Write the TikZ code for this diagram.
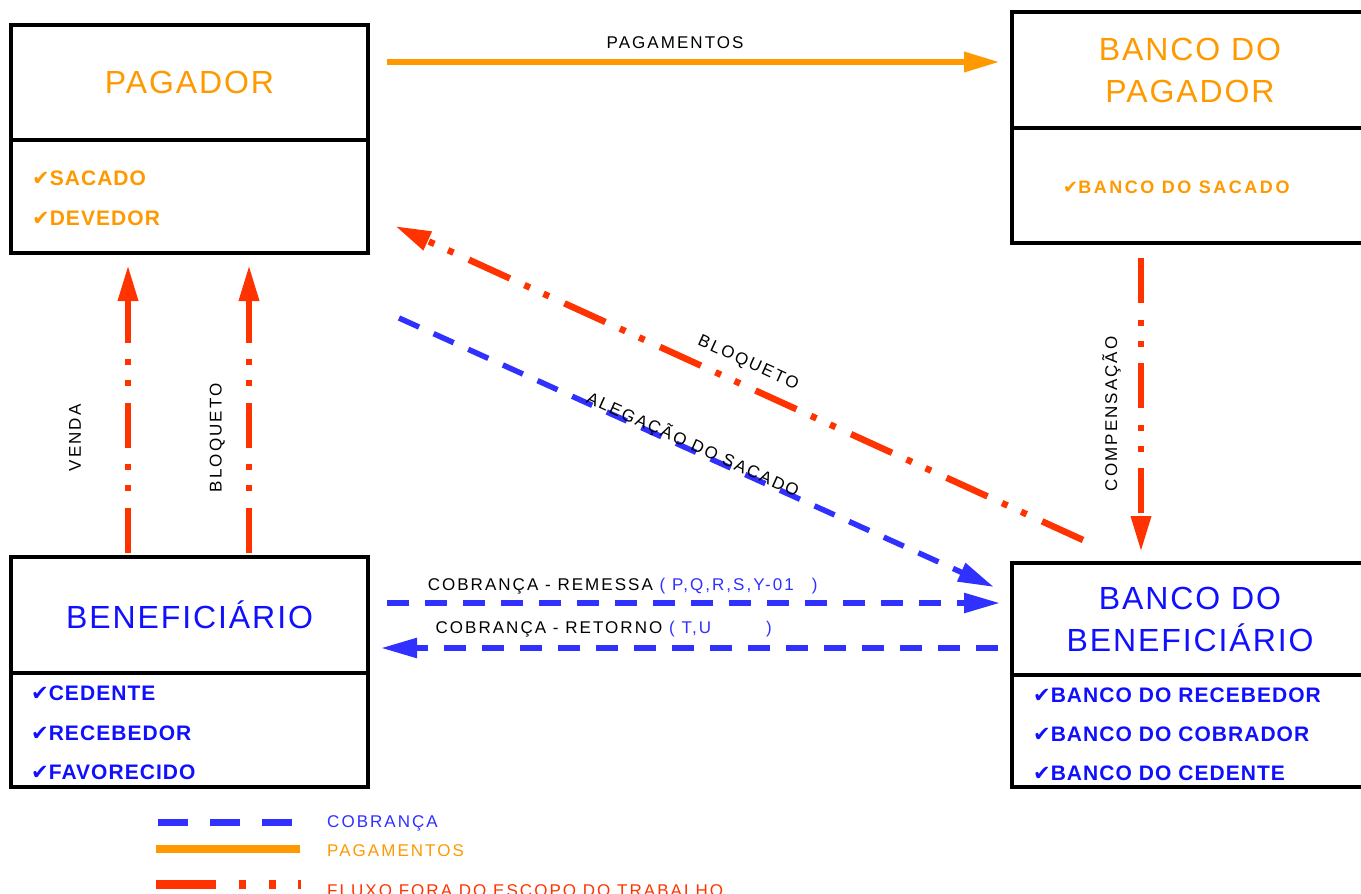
\documentclass[tikz,border=0pt]{standalone}
\usepackage{fontspec}
\setmainfont{Liberation Sans}
\newfontfamily\titlefont[LetterSpace=6]{Liberation Sans}
\newfontfamily\itemfont[LetterSpace=5]{Liberation Sans}
\newfontfamily\itemwidefont[LetterSpace=14]{Liberation Sans}
\newfontfamily\labelfont[LetterSpace=12]{Liberation Sans}
\newfontfamily\symfont{DejaVu Sans}
\usetikzlibrary{arrows.meta,positioning}
\definecolor{pagorange}{HTML}{FF9900}
\definecolor{forared}{HTML}{FF3300}
\definecolor{cobblue}{HTML}{3030FF}
\definecolor{entblue}{HTML}{1010FF}
\newcommand{\chk}{{\symfont ✔}}
\tikzset{node distance=0pt, auto}

\begin{document}
\begin{tikzpicture}[
  x=1pt, y=-1pt,
  box/.style={draw, line width=3.5pt, outer sep=0pt, inner sep=0pt, minimum width=357pt},
  titlebox/.style={box, align=center, font={\titlefont\fontsize{32}{42}\selectfont}},
  item/.style={anchor=base west, inner sep=0pt, font={\itemfont\bfseries\fontsize{21}{21}\selectfont}},
  lbl/.style={text=black, inner sep=2pt, font={\labelfont\fontsize{17}{17}\selectfont}},
  cob/.style={cobblue, line width=5.5pt, dash pattern=on 22pt off 16pt},
  pag/.style={pagorange, line width=6.5pt},
  fora/.style={forared, line width=6.5pt, dash pattern=on 45pt off 17pt on 6pt off 15pt on 6pt off 16pt},
  arrowhd/.style={-{Triangle[length=36pt,width=19pt]}}
]
\useasboundingbox[fill=white] (0,0) rectangle (1361,894);

\node[titlebox, text=pagorange, minimum height=115pt] (pagador) at (189.5,82.5) {PAGADOR};
\node[box, minimum height=113pt, below=of pagador] (paglist) {};
\node[item, text=pagorange] (sacado) at (32,185) {\chk SACADO};
\node[item, text=pagorange] (devedor) at (32,225) {\chk DEVEDOR};

\node[titlebox, text=pagorange, minimum width=356pt, minimum height=116pt] (bancopag) at (1190,70) {BANCO DO\\PAGADOR};
\node[box, minimum width=356pt, minimum height=115pt, below=of bancopag] (bancopaglist) {};
\node[item, text=pagorange, font={\itemwidefont\bfseries\fontsize{18}{18}\selectfont}] (bcosacado) at (1063,193.5) {\chk BANCO DO SACADO};

\node[titlebox, text=entblue, minimum height=116pt] (benef) at (189.5,615) {BENEFICIÁRIO};
\node[box, minimum height=114pt, below=of benef] (beneflist) {};
\node[item, text=entblue] (cedente) at (31,700) {\chk CEDENTE};
\node[item, text=entblue] (recebedor) at (31,740) {\chk RECEBEDOR};
\node[item, text=entblue] (favorecido) at (31,779) {\chk FAVORECIDO};

\node[titlebox, text=entblue, minimum width=356pt, minimum height=112pt] (bancobenef) at (1190,619) {BANCO DO\\BENEFICIÁRIO};
\node[box, minimum width=356pt, minimum height=112pt, below=of bancobenef] (bancobeneflist) {};
\node[item, text=entblue] (bcorecebedor) at (1033,702) {\chk BANCO DO RECEBEDOR};
\node[item, text=entblue] (bcocobrador) at (1033,741) {\chk BANCO DO COBRADOR};
\node[item, text=entblue] (bcocedente) at (1033,780) {\chk BANCO DO CEDENTE};

\draw[pag, arrowhd] ([shift={(19,-20.5)}]pagador.east) -- ([shift={(-12,-8)}]bancopag.west)
  node[lbl, pos=0.47, above=8pt] (lblpag) {PAGAMENTOS};

\draw[fora, arrowhd] ([shift={(-61.5,-4)}]benef.north) -- ([shift={(-61.5,12)}]paglist.south)
  node[lbl, pos=0.4, rotate=90, anchor=south, inner ysep=44pt] (lblvenda) {VENDA};
\draw[fora, arrowhd] ([shift={(59.5,-4)}]benef.north) -- ([shift={(59.5,12)}]paglist.south)
  node[lbl, pos=0.4, rotate=90, anchor=south, inner ysep=21pt] (lblbloqv) {BLOQUETO};
\draw[fora, arrowhd] ([shift={(-49,15)}]bancopaglist.south) -- ([shift={(-49,-11)}]bancobenef.north)
  node[lbl, pos=0.53, rotate=90, anchor=south, inner ysep=17pt] (lblcomp) {COMPENSAÇÃO};

\draw[fora, arrowhd] ([shift={(71,-23)}]bancobenef.north west) -- ([shift={(27,-27)}]paglist.south east)
  node[lbl, pos=0.5, sloped, anchor=south, inner ysep=11pt] (lblbloqd) {BLOQUETO};
\draw[cob, arrowhd] ([shift={(31,65)}]paglist.south east) -- ([shift={(-18,24)}]bancobenef.north west)
  node[lbl, pos=0.49, sloped, anchor=base, inner ysep=0pt] (lblaleg) {ALEGAÇÃO DO SACADO};

\draw[cob, arrowhd] ([shift={(19,-12)}]benef.east) -- ([shift={(-12,-16)}]bancobenef.west)
  node[lbl, pos=0.062, anchor=south west, inner xsep=0pt, inner ysep=6pt] (lblrem)
  {COBRANÇA - REMESSA {\color{cobblue}( P,Q,R,S,Y-01\hspace{18pt})}};
\draw[cob, arrowhd] ([shift={(-14,29)}]bancobenef.west) -- ([shift={(13,33)}]benef.east)
  node[lbl, pos=0.916, anchor=south west, inner xsep=0pt, inner ysep=8pt] (lblret)
  {COBRANÇA - RETORNO {\color{cobblue}( T,U\hspace{55pt})}};

\draw[cob, line width=7pt, dash pattern=on 30pt off 22pt] (158,822) -- (292,822);
\draw[pag, line width=8pt] (156,849) -- (300,849);
\draw[fora, line width=9pt, dash pattern=on 60pt off 23pt on 7pt off 23pt on 7pt off 22pt] (156,884) -- (301,884);
\node[lbl, anchor=base west, text=cobblue] (legcob) at (325,827) {COBRANÇA};
\node[lbl, anchor=base west, text=pagorange] (legpag) at (325,856) {PAGAMENTOS};
\node[lbl, anchor=base west, text=forared] (legfora) at (325,896) {FLUXO FORA DO ESCOPO DO TRABALHO};
\end{tikzpicture}
\end{document}
